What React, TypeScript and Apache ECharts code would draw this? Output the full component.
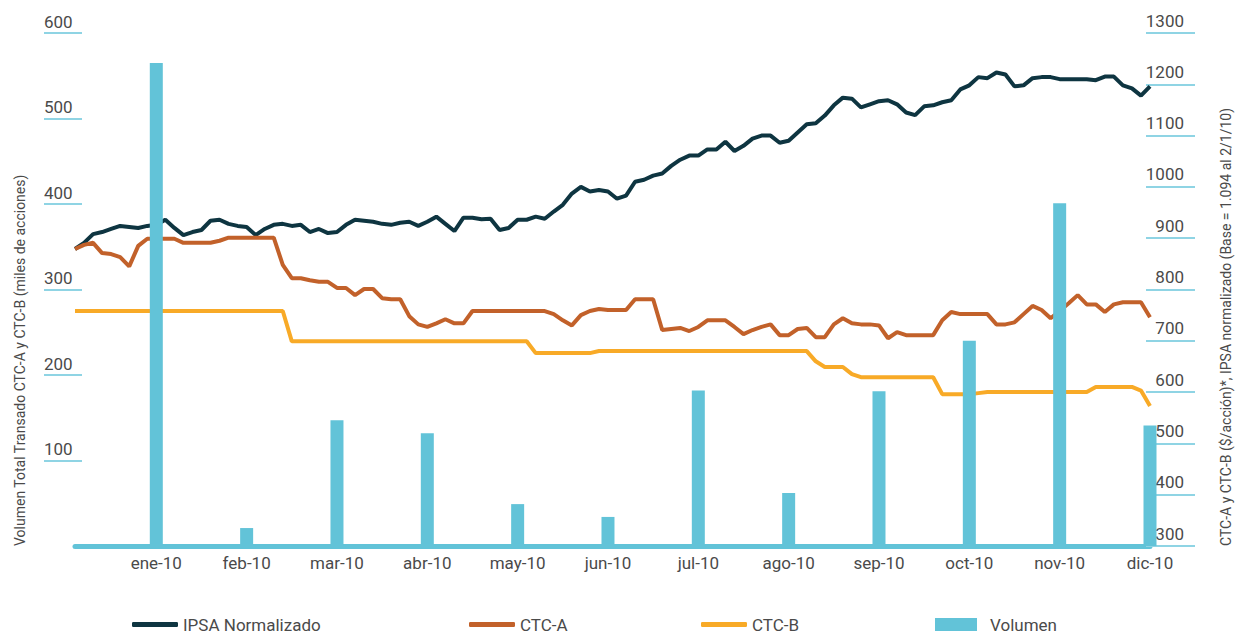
import React, { useEffect, useRef } from "react";
import * as echarts from "echarts";

const MONTHS = ["ene-10", "feb-10", "mar-10", "abr-10", "may-10", "jun-10", "jul-10", "ago-10", "sep-10", "oct-10", "nov-10", "dic-10"];
const POINTS_PER_MONTH = 10;

// Monthly volume (miles de acciones), at the month-end point
const VOLUMEN = [565, 21, 147, 132, 49, 34, 182, 62, 181, 240, 401, 141];

// Sampled price series (10 samples per month)
const IPSA = [
  879, 891, 908, 912, 918, 924, 922, 920, 924, 926,
  936, 920, 906, 912, 916, 934, 936, 928, 924, 922,
  906, 918, 926, 928, 924, 926, 912, 918, 910, 912,
  926, 936, 934, 932, 928, 926, 930, 932, 924, 932,
  942, 928, 914, 940, 940, 937, 938, 916, 920, 936,
  936, 942, 938, 952, 965, 987, 1000, 991, 994, 991,
  977, 983, 1010, 1014, 1022, 1026, 1041, 1053, 1061, 1061,
  1073, 1073, 1088, 1070, 1080, 1094, 1100, 1100, 1086, 1090,
  1106, 1122, 1124, 1139, 1159, 1174, 1172, 1155, 1161, 1167,
  1169, 1161, 1145, 1140, 1157, 1159, 1165, 1169, 1190, 1198,
  1214, 1212, 1223, 1219, 1196, 1198, 1212, 1214, 1214, 1210,
  1210, 1210, 1210, 1208, 1215, 1215, 1198, 1192, 1178, 1196,
];

const CTC_A = [
  879, 887, 891, 871, 869, 863, 845, 885, 899, 899,
  899, 899, 891, 891, 891, 891, 895, 901, 901, 901,
  901, 901, 901, 848, 822, 822, 818, 815, 815, 803,
  803, 789, 801, 801, 783, 781, 781, 748, 732, 727,
  734, 742, 734, 734, 758, 758, 758, 758, 758, 758,
  758, 758, 758, 752, 740, 730, 750, 758, 762, 760,
  760, 760, 781, 781, 781, 721, 723, 725, 719, 727,
  740, 740, 740, 727, 713, 721, 727, 732, 711, 711,
  723, 725, 707, 707, 732, 744, 734, 732, 732, 730,
  705, 717, 711, 711, 711, 711, 740, 756, 752, 752,
  752, 752, 732, 732, 736, 752, 768, 760, 744, 758,
  773, 789, 771, 771, 756, 771, 775, 775, 775, 746,
];

const CTC_B = [
  758, 758, 758, 758, 758, 758, 758, 758, 758, 758,
  758, 758, 758, 758, 758, 758, 758, 758, 758, 758,
  758, 758, 758, 758, 699, 699, 699, 699, 699, 699,
  699, 699, 699, 699, 699, 699, 699, 699, 699, 699,
  699, 699, 699, 699, 699, 699, 699, 699, 699, 699,
  699, 676, 676, 676, 676, 676, 676, 676, 680, 680,
  680, 680, 680, 680, 680, 680, 680, 680, 680, 680,
  680, 680, 680, 680, 680, 680, 680, 680, 680, 680,
  680, 680, 660, 649, 649, 649, 635, 629, 629, 629,
  629, 629, 629, 629, 629, 629, 596, 596, 596, 596,
  598, 600, 600, 600, 600, 600, 600, 600, 600, 600,
  600, 600, 600, 610, 610, 610, 610, 610, 603, 573,
];

const LEFT_TICKS = [100, 200, 300, 400, 500, 600];
const RIGHT_TICKS = [300, 400, 500, 600, 700, 800, 900, 1000, 1100, 1200, 1300];

const FONT = "Roboto, 'Noto Sans', sans-serif";
const TEXT = "#4a4a4a";
const TICK = "#8fd4e4";
const C_IPSA = "#0e3541";
const C_A = "#c2612a";
const C_B = "#f8aa27";
const C_VOL = "#62c3d8";

export default function App() {
  const ref = useRef<HTMLDivElement>(null);

  useEffect(() => {
    if (!ref.current) return;
    const chart = echarts.init(ref.current, undefined, { renderer: "svg" });

    const categories = MONTHS.flatMap((m) =>
      Array.from({ length: POINTS_PER_MONTH }, (_, j) => `${m} ${j + 1}`)
    );
    const volData = categories.map((_, i) =>
      i % POINTS_PER_MONTH === POINTS_PER_MONTH - 1 ? VOLUMEN[Math.floor(i / POINTS_PER_MONTH)] : "-"
    );

    const legendBase = {
      top: 611,
      orient: "horizontal",
      textStyle: { color: TEXT, fontSize: 17, fontFamily: FONT },
      selectedMode: false,
    };

    const option: any = {
      animation: false,
      textStyle: { fontFamily: FONT },
      grid: { left: 75, right: 87, top: 33, bottom: 90 },
      legend: [
        { ...legendBase, left: 127, data: ["IPSA Normalizado"], icon: "roundRect", itemWidth: 46, itemHeight: 5 },
        { ...legendBase, left: 464, data: ["CTC-A"], icon: "roundRect", itemWidth: 46, itemHeight: 5 },
        { ...legendBase, left: 696, data: ["CTC-B"], icon: "roundRect", itemWidth: 46, itemHeight: 5 },
        { ...legendBase, left: 930, data: ["Volumen"], icon: "rect", itemWidth: 42, itemHeight: 13, textStyle: { ...legendBase.textStyle, padding: [0, 0, 0, 8] } },
      ],
      xAxis: {
        type: "category",
        data: categories,
        boundaryGap: false,
        axisLine: { show: true, lineStyle: { color: C_VOL, width: 5 } },
        axisTick: { show: false },
        splitLine: { show: false },
        axisLabel: {
          interval: (i: number) => i % POINTS_PER_MONTH === POINTS_PER_MONTH - 1,
          formatter: (v: string) => v.split(" ")[0],
          color: TEXT,
          fontSize: 17,
          margin: 8,
        },
      },
      yAxis: [
        {
          type: "value",
          position: "left",
          min: 0,
          max: 600,
          interval: 100,
          offset: -7,
          axisLine: { show: false },
          splitLine: { show: false },
          axisTick: { show: true, length: 38, customValues: LEFT_TICKS, lineStyle: { color: TICK, width: 2 } },
          axisLabel: {
            customValues: LEFT_TICKS,
            formatter: (v: number) => String(v),
            align: "left",
            verticalAlign: "bottom",
            margin: 38,
            color: TEXT,
            fontSize: 17,
            padding: [0, 0, 3, 0],
          },
        },
        {
          type: "value",
          position: "right",
          min: 300,
          max: 1300,
          interval: 100,
          offset: -4,
          axisLine: { show: false },
          splitLine: { show: false },
          axisTick: { show: true, length: 49, customValues: RIGHT_TICKS, lineStyle: { color: TICK, width: 2 } },
          axisLabel: {
            customValues: RIGHT_TICKS,
            formatter: (v: number) => String(v),
            align: "right",
            verticalAlign: "bottom",
            margin: 38,
            color: TEXT,
            fontSize: 17,
            padding: [0, 0, 4, 0],
          },
        },
      ],
      graphic: [
        {
          type: "text",
          x: 20,
          y: 546,
          rotation: Math.PI / 2,
          style: {
            text: "Volumen Total Transado CTC-A y CTC-B (miles de acciones)",
            fill: TEXT,
            font: `14px ${FONT}`,
            align: "left",
            verticalAlign: "middle",
          },
        },
        {
          type: "text",
          x: 1226,
          y: 546,
          rotation: Math.PI / 2,
          style: {
            text: "CTC-A y CTC-B ($/acción)*, IPSA normalizado (Base = 1.094 al 2/1/10)",
            fill: TEXT,
            font: `14px ${FONT}`,
            align: "left",
            verticalAlign: "middle",
          },
        },
      ],
      series: [
        {
          name: "IPSA Normalizado",
          type: "line",
          yAxisIndex: 1,
          data: IPSA,
          showSymbol: false,
          color: C_IPSA,
          lineStyle: { color: C_IPSA, width: 4 },
          z: 2,
        },
        {
          name: "CTC-A",
          type: "line",
          yAxisIndex: 1,
          data: CTC_A,
          showSymbol: false,
          color: C_A,
          lineStyle: { color: C_A, width: 4 },
          z: 2,
        },
        {
          name: "CTC-B",
          type: "line",
          yAxisIndex: 1,
          data: CTC_B,
          showSymbol: false,
          color: C_B,
          lineStyle: { color: C_B, width: 4 },
          z: 2,
        },
        {
          name: "Volumen",
          type: "bar",
          yAxisIndex: 0,
          data: volData,
          barWidth: 13,
          color: C_VOL,
          itemStyle: { color: C_VOL },
          z: 5,
        },
      ],
    };

    chart.setOption(option);
    return () => chart.dispose();
  }, []);

  return (
    <div
      ref={ref}
      style={{ position: "absolute", left: 0, top: 0, width: 1237, height: 636 }}
    />
  );
}
